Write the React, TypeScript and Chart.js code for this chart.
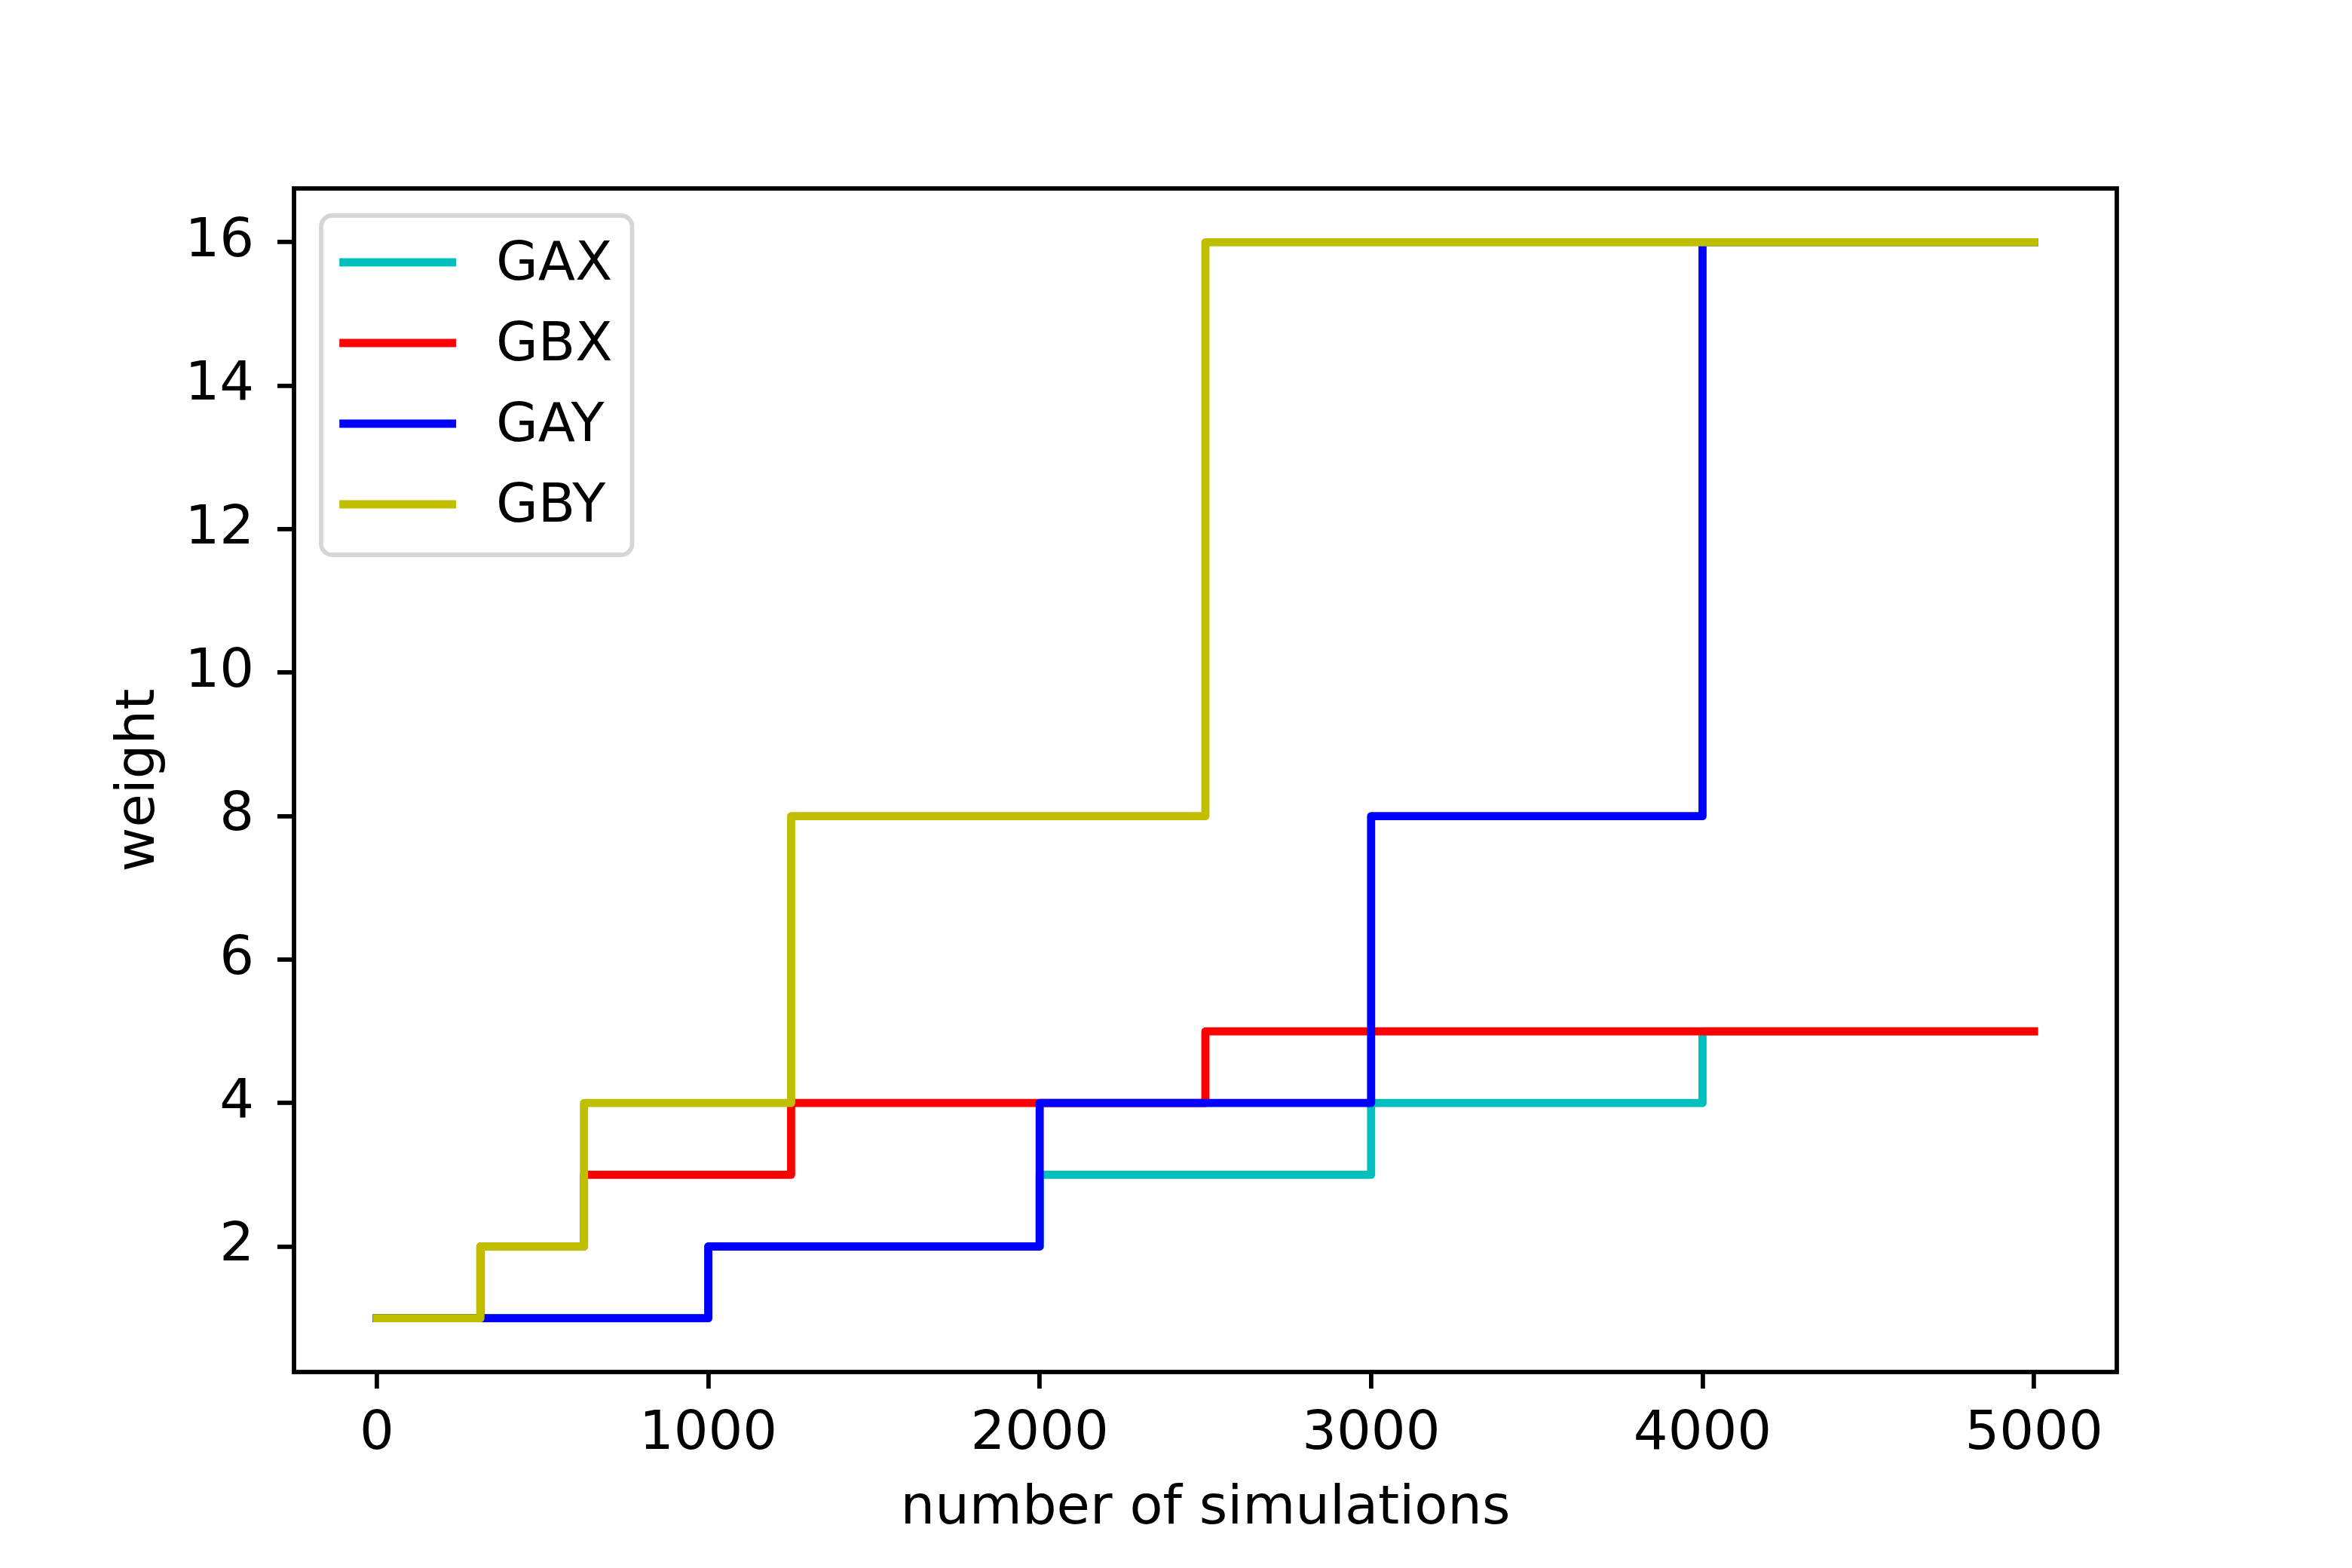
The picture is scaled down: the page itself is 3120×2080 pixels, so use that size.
import React, { useEffect, useRef } from 'react';
import { Chart, registerables } from 'chart.js';

Chart.register(...registerables);

// ---- data ----
const seriesLabels = ['GAX', 'GBX', 'GAY', 'GBY'];
const seriesColors = ['#00bfbf', '#ff0000', '#0000ff', '#bfbf00'];

const gaxX = [0, 1000, 2000, 3000, 4000, 5000];
const gaxY = [1, 2, 3, 4, 5, 5];

const gbxX = [0, 312.5, 625, 1250, 2500, 5000];
const gbxY = [1, 2, 3, 4, 5, 5];

const gayX = [0, 1000, 2000, 3000, 4000, 5000];
const gayY = [1, 2, 4, 8, 16, 16];

const gbyX = [0, 312.5, 625, 1250, 2500, 5000];
const gbyY = [1, 2, 4, 8, 16, 16];

const xTickValues = [0, 1000, 2000, 3000, 4000, 5000];
const yTickValues = [2, 4, 6, 8, 10, 12, 14, 16];

const xTitle = 'number of simulations';
const yTitle = 'weight';

const FONT = "'DejaVu Sans', sans-serif";
const FS = 72;
const LW = 10.8;
const AXW = 5.8;

const framePlugin = {
  id: 'frame',
  afterDatasetsDraw(chart: any) {
    const { ctx, chartArea } = chart;
    ctx.save();
    ctx.strokeStyle = '#000';
    ctx.lineWidth = AXW;
    ctx.lineJoin = 'miter';
    ctx.strokeRect(chartArea.left, chartArea.top, chartArea.right - chartArea.left, chartArea.bottom - chartArea.top);
    ctx.restore();
  },
};

const legendPlugin = {
  id: 'boxLegend',
  afterDraw(chart: any) {
    const { ctx, chartArea } = chart;
    ctx.save();
    ctx.font = `${FS}px ${FONT}`;
    const left = chartArea.left + 36;
    const top = chartArea.top + 36;
    const rowGap = 107;
    const firstRow = top + 62;
    const textX = left + 232;
    let maxW = 0;
    seriesLabels.forEach((l) => {
      maxW = Math.max(maxW, ctx.measureText(l).width);
    });
    const right = textX + maxW + 26;
    const bottom = firstRow + rowGap * (seriesLabels.length - 1) + 67;
    const r = 14.4;
    ctx.beginPath();
    ctx.moveTo(left + r, top);
    ctx.lineTo(right - r, top);
    ctx.arcTo(right, top, right, top + r, r);
    ctx.lineTo(right, bottom - r);
    ctx.arcTo(right, bottom, right - r, bottom, r);
    ctx.lineTo(left + r, bottom);
    ctx.arcTo(left, bottom, left, bottom - r, r);
    ctx.lineTo(left, top + r);
    ctx.arcTo(left, top, left + r, top, r);
    ctx.closePath();
    ctx.fillStyle = 'rgba(255,255,255,0.8)';
    ctx.fill();
    ctx.strokeStyle = 'rgba(204,204,204,0.8)';
    ctx.lineWidth = AXW;
    ctx.stroke();

    seriesLabels.forEach((label, i) => {
      const y = firstRow + i * rowGap;
      ctx.beginPath();
      ctx.strokeStyle = seriesColors[i];
      ctx.lineWidth = LW;
      ctx.lineCap = 'square';
      ctx.moveTo(left + 29.6, y);
      ctx.lineTo(left + 173.6, y);
      ctx.stroke();
      ctx.fillStyle = '#000';
      ctx.textAlign = 'left';
      ctx.textBaseline = 'alphabetic';
      ctx.fillText(label, textX, y + 23);
    });
    ctx.restore();
  },
};

export default function App() {
  const ref = useRef<HTMLCanvasElement>(null);

  useEffect(() => {
    document.body.style.margin = '0';
    const pts = (xs: number[], ys: number[]) => xs.map((x, i) => ({ x, y: ys[i] }));
    const seriesX = [gaxX, gbxX, gayX, gbyX];
    const seriesY = [gaxY, gbxY, gayY, gbyY];
    const datasets = seriesLabels.map((label, i) => ({
      label,
      data: pts(seriesX[i], seriesY[i]),
      borderColor: seriesColors[i],
      backgroundColor: seriesColors[i],
      borderWidth: LW,
      pointRadius: 0,
      stepped: 'before' as const,
      fill: false,
      order: seriesLabels.length - i,
    }));

    const tickFont = { size: FS, family: FONT };
    const gridOpts = {
      display: true,
      drawOnChartArea: false,
      drawTicks: true,
      tickLength: 22,
      tickWidth: AXW,
      tickColor: '#000',
      lineWidth: AXW,
      color: '#000',
    };

    const chart = new Chart(ref.current as HTMLCanvasElement, {
      type: 'line',
      data: { datasets: datasets as any },
      options: {
        responsive: false,
        animation: false,
        devicePixelRatio: 1,
        layout: { padding: { top: 250, right: 312, bottom: 0, left: 0 } },
        plugins: { legend: { display: false }, tooltip: { enabled: false } },
        elements: {
          point: { radius: 0 },
          line: { borderJoinStyle: 'round', borderCapStyle: 'square', tension: 0 },
        },
        scales: {
          x: {
            type: 'linear',
            min: -250,
            max: 5250,
            afterBuildTicks: (s: any) => {
              s.ticks = xTickValues.map((v) => ({ value: v }));
            },
            afterFit: (s: any) => {
              s.height = 260;
            },
            ticks: {
              font: tickFont,
              color: '#000',
              padding: 18,
              autoSkip: false,
              maxRotation: 0,
              minRotation: 0,
              callback: (v: any) => String(v),
            },
            grid: gridOpts,
            border: { display: false },
            title: {
              display: true,
              text: xTitle,
              font: tickFont,
              color: '#000',
              padding: { top: 0, bottom: 35 },
            },
          },
          y: {
            type: 'linear',
            min: 0.25,
            max: 16.75,
            afterBuildTicks: (s: any) => {
              s.ticks = yTickValues.map((v) => ({ value: v }));
            },
            afterFit: (s: any) => {
              s.width = 390;
            },
            ticks: {
              font: tickFont,
              color: '#000',
              padding: 31,
              autoSkip: false,
              callback: (v: any) => String(v),
            },
            grid: gridOpts,
            border: { display: false },
            title: {
              display: true,
              text: yTitle,
              font: tickFont,
              color: '#000',
              padding: { top: 142, bottom: 0 },
            },
          },
        },
      },
      plugins: [framePlugin, legendPlugin],
    });
    return () => chart.destroy();
  }, []);

  return (
    <div style={{ width: 3120, height: 2080, background: '#fff' }}>
      <canvas ref={ref} width={3120} height={2080} style={{ width: 3120, height: 2080, display: 'block' }} />
    </div>
  );
}
